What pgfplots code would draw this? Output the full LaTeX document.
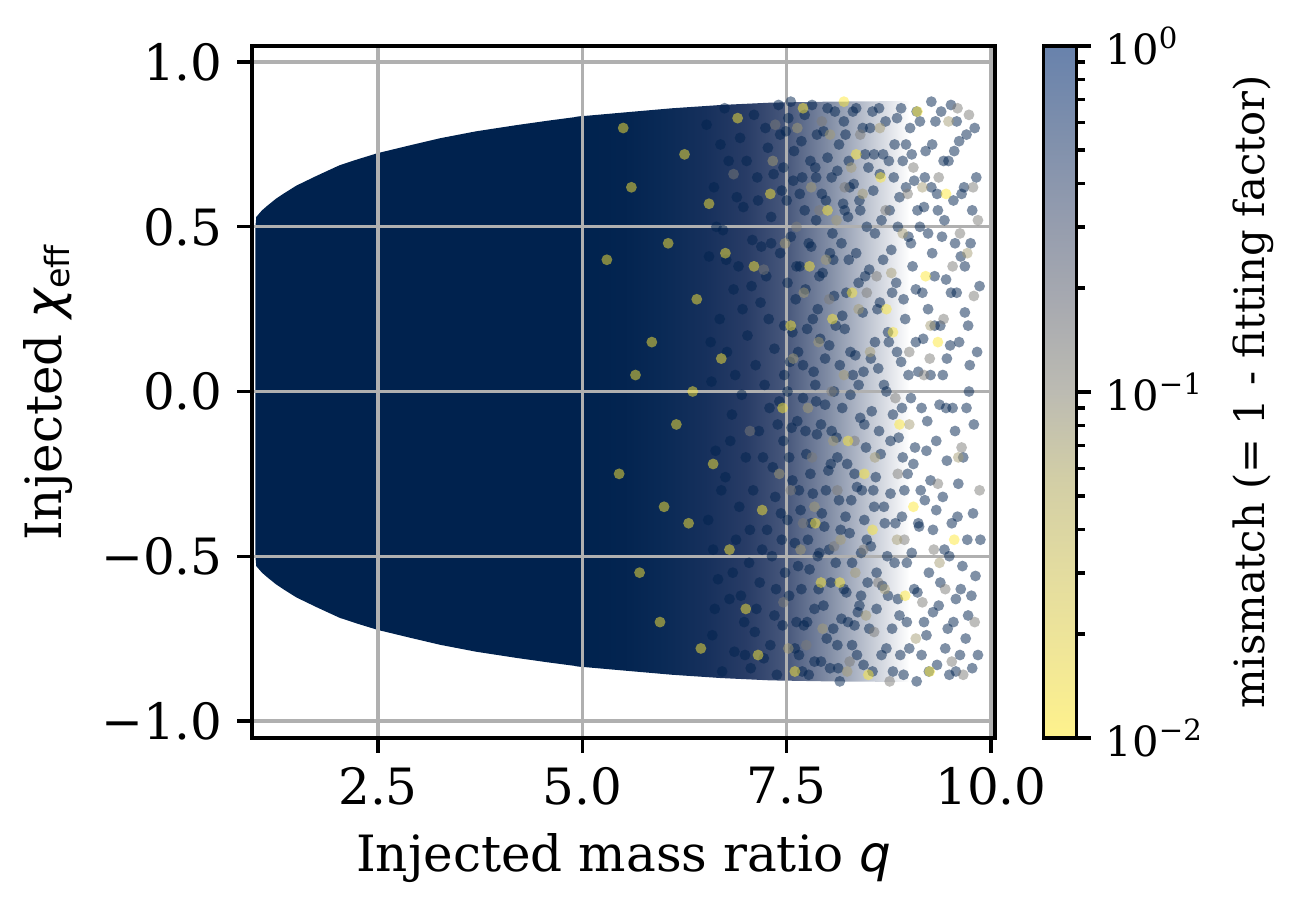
\documentclass[border=0pt]{standalone}
\usepackage{fontspec}
\setmainfont{DejaVu Serif}
\newfontfamily\dvsans{DejaVu Sans}
\usepackage{pgfplots}
\usepackage{pgfplotstable}
\pgfplotsset{compat=1.18}
\definecolor{navyd}{RGB}{0,34,78}
\definecolor{grayd}{RGB}{124,123,120}
\definecolor{tand}{RGB}{166,157,117}
\definecolor{yellowd}{RGB}{253,232,56}
\definecolor{gridgray}{RGB}{176,176,176}
\definecolor{sA}{RGB}{0,34,78}
\definecolor{sB}{RGB}{3,36,80}
\definecolor{sC}{RGB}{10,42,86}
\definecolor{sD}{RGB}{22,48,92}
\definecolor{sE}{RGB}{40,60,102}
\definecolor{sF}{RGB}{72,88,124}
\definecolor{sG}{RGB}{128,140,164}
\definecolor{sH}{RGB}{192,198,210}
\pgfdeclarehorizontalshading{fadeB}{100bp}{color(0bp)=(sA); color(25bp)=(sA); color(32.32bp)=(sB); color(38.41bp)=(sC); color(44.51bp)=(sD); color(50.61bp)=(sE); color(56.71bp)=(sF); color(62.8bp)=(sG); color(68.9bp)=(sH); color(75bp)=(white); color(100bp)=(white)}

\pgfplotstableread{
x y
6.52 0.81
6.61 0.62
6.55 0.41
6.68 0.22
6.58 0.03
6.63 -0.18
6.54 -0.39
6.66 -0.57
6.59 -0.74
6.71 -0.85
6.74 0.86
6.79 0.70
6.72 0.49
6.85 0.31
6.77 0.12
6.83 -0.07
6.75 -0.26
6.88 -0.45
6.80 -0.63
6.86 -0.79
6.93 0.77
6.97 0.56
6.91 0.38
7.02 0.17
6.95 -0.01
7.00 -0.20
6.92 -0.35
7.04 -0.52
6.98 -0.70
7.06 -0.84
7.10 0.84
7.14 0.65
7.08 0.46
7.18 0.27
7.12 0.08
7.16 -0.12
7.09 -0.30
7.20 -0.48
7.13 -0.66
7.22 -0.81
7.27 0.74
7.31 0.53
7.25 0.35
7.35 0.13
7.29 -0.05
7.33 -0.23
7.26 -0.42
7.37 -0.60
7.30 -0.77
7.40 0.87
7.44 0.61
7.42 0.42
7.47 0.20
7.41 -0.03
7.46 -0.15
7.43 -0.37
7.48 -0.55
7.45 -0.71
7.38 -0.86
6.69 0.75
6.64 0.50
6.70 -0.30
6.60 -0.48
6.89 0.59
6.84 -0.55
7.01 0.70
7.05 -0.42
7.19 0.44
7.17 -0.58
7.34 0.66
7.36 -0.32
7.23 0.02
6.96 0.25
6.81 -0.15
6.57 0.15
7.11 -0.73
7.28 0.22
7.39 -0.10
7.49 0.79
6.94 -0.62
6.76 0.40
7.21 -0.20
7.07 0.32
6.62 -0.66
6.87 0.05
7.32 -0.50
7.15 0.58
6.99 -0.80
7.24 0.80
7.52 0.83
7.58 0.64
7.55 0.47
7.61 0.28
7.54 0.09
7.63 -0.09
7.57 -0.27
7.60 -0.46
7.53 -0.62
7.65 -0.80
7.68 0.76
7.72 0.55
7.66 0.38
7.75 0.19
7.70 -0.02
7.74 -0.19
7.67 -0.36
7.78 -0.54
7.71 -0.71
7.77 -0.86
7.81 0.87
7.85 0.68
7.80 0.44
7.88 0.25
7.83 0.06
7.87 -0.13
7.82 -0.31
7.90 -0.49
7.84 -0.66
7.92 -0.82
7.95 0.79
7.98 0.58
7.94 0.36
8.02 0.14
7.97 -0.04
8.01 -0.24
7.96 -0.41
8.04 -0.58
7.99 -0.75
8.06 0.48
8.09 0.85
8.12 0.67
8.08 0.29
8.15 0.08
8.11 -0.14
8.14 -0.33
8.10 -0.52
8.17 -0.69
8.13 -0.84
8.19 0.57
8.22 0.78
8.26 0.40
8.21 0.19
8.28 -0.01
8.24 -0.22
8.27 -0.43
8.23 -0.61
8.30 -0.77
8.32 0.63
8.35 0.86
8.38 0.33
8.34 0.11
8.40 -0.08
8.36 -0.29
8.41 -0.49
8.37 -0.67
8.44 -0.83
8.46 0.72
8.48 0.50
8.43 0.24
8.47 -0.17
8.45 -0.39
8.49 -0.58
7.59 0.73
7.56 -0.11
7.64 0.12
7.62 -0.70
7.73 0.31
7.76 -0.45
7.69 0.65
7.79 -0.25
7.86 0.52
7.89 -0.60
7.91 0.16
7.93 -0.37
8.00 0.71
8.03 -0.84
8.05 -0.12
8.07 0.40
8.16 -0.42
8.18 0.23
8.20 -0.60
8.25 0.53
8.29 -0.33
8.31 0.05
8.33 -0.71
8.39 0.58
8.42 -0.30
7.51 0.33
7.51 -0.39
7.64 -0.53
7.86 -0.03
8.12 -0.77
8.26 0.70
8.44 0.06
8.52 0.80
8.56 0.61
8.51 0.37
8.58 0.15
8.54 -0.06
8.59 -0.26
8.53 -0.47
8.60 -0.66
8.55 -0.85
8.63 0.86
8.66 0.52
8.64 0.27
8.69 0.02
8.65 -0.19
8.70 -0.40
8.67 -0.59
8.72 -0.78
8.75 0.70
8.78 0.43
8.74 0.18
8.80 -0.07
8.77 -0.31
8.82 -0.52
8.79 -0.72
8.85 0.83
8.88 0.59
8.84 0.33
8.90 0.09
8.87 -0.14
8.91 -0.38
8.86 -0.63
8.93 -0.86
8.96 0.75
8.99 0.47
8.95 0.22
9.02 -0.02
8.98 -0.25
9.03 -0.49
8.97 -0.70
9.06 0.64
9.09 0.85
9.08 0.31
9.11 0.06
9.07 -0.17
9.12 -0.41
9.10 -0.61
9.15 -0.80
9.18 0.56
9.20 0.73
9.17 0.16
9.22 -0.09
9.19 -0.33
9.24 -0.55
9.21 -0.74
9.27 0.88
9.28 0.42
9.26 -0.27
9.29 -0.67
8.62 0.07
8.73 -0.50
8.81 0.65
8.92 -0.20
9.04 0.38
9.14 -0.30
8.57 -0.35
8.68 0.72
8.89 -0.80
9.01 0.80
9.23 0.25
9.13 0.50
9.32 0.82
9.35 0.55
9.31 0.20
9.37 -0.04
9.33 -0.36
9.38 -0.58
9.34 -0.83
9.42 0.70
9.45 0.34
9.41 0.05
9.46 -0.21
9.43 -0.48
9.47 -0.72
9.51 0.87
9.54 0.58
9.50 0.14
9.56 -0.12
9.52 -0.40
9.57 -0.63
9.61 0.76
9.63 0.41
9.60 -0.28
9.65 -0.53
9.62 -0.80
9.68 0.24
9.70 -0.05
9.67 0.62
9.72 -0.68
9.75 0.45
9.78 -0.37
9.74 0.08
9.80 0.80
9.77 -0.84
9.83 0.12
9.81 -0.56
9.40 0.47
9.49 -0.86
9.58 0.30
9.69 -0.75
9.55 0.73
7.31 0.45
7.35 -0.68
7.42 0.78
7.44 -0.45
7.47 0.05
7.50 0.58
7.53 -0.20
7.55 0.88
7.57 0.18
7.60 -0.78
7.62 0.38
7.65 -0.30
7.66 0.60
7.68 -0.60
7.70 0.08
7.72 0.84
7.73 -0.12
7.75 -0.70
7.77 0.45
7.79 0.70
7.80 -0.40
7.82 0.22
7.84 -0.82
7.85 0.02
7.87 0.78
7.88 -0.50
7.90 0.35
7.92 -0.10
7.93 0.60
7.95 -0.65
7.97 0.10
7.98 -0.30
8.00 0.86
8.02 -0.48
8.03 0.42
8.05 0.65
8.07 -0.72
8.08 0.00
8.10 0.20
8.12 -0.20
8.14 0.75
8.15 -0.88
8.17 0.45
8.18 -0.05
8.20 0.82
8.22 -0.38
8.23 0.30
8.25 -0.70
8.27 0.62
8.28 0.12
8.30 -0.52
8.31 0.85
8.33 -0.25
8.35 0.42
8.36 -0.80
8.38 0.02
8.40 0.55
8.41 -0.62
8.43 0.80
8.45 -0.10
8.46 0.35
8.48 -0.45
8.50 0.68
8.51 -0.72
8.53 0.10
8.55 0.85
8.56 -0.30
8.58 0.48
8.60 -0.55
8.61 0.25
8.63 -0.12
8.64 0.66
8.66 -0.80
8.68 0.40
8.69 -0.35
8.71 0.82
8.72 0.00
8.74 -0.62
8.76 0.55
8.77 -0.15
8.79 0.30
8.80 -0.85
8.82 0.75
8.83 -0.40
8.85 0.12
8.86 0.50
8.88 -0.68
8.90 0.86
8.91 -0.05
8.93 0.28
8.94 -0.30
8.96 0.62
8.97 -0.52
8.99 0.05
9.00 -0.78
9.02 0.45
9.03 0.72
9.05 -0.22
9.06 -0.60
9.08 0.15
9.10 0.55
9.11 -0.40
9.13 0.82
9.15 -0.05
9.16 0.30
9.18 -0.70
9.19 0.65
9.21 -0.18
9.23 0.48
9.24 -0.85
9.26 0.05
9.28 0.75
9.29 -0.42
9.31 0.35
9.33 -0.15
9.34 0.60
9.36 -0.65
9.38 0.20
9.39 0.85
9.41 -0.32
9.43 0.52
9.44 -0.78
9.46 0.10
9.48 0.70
9.49 -0.50
9.51 0.30
9.53 -0.05
9.54 -0.70
9.56 0.45
9.58 0.82
9.59 -0.38
9.61 0.15
9.63 -0.60
9.64 0.60
9.66 -0.20
9.68 0.38
9.70 0.78
9.71 -0.45
9.73 0.00
9.76 -0.62
9.77 0.55
9.79 -0.10
9.82 0.65
9.84 -0.80
9.86 0.32
9.87 -0.45
9.72 0.20
9.57 -0.85
9.45 -0.05
9.27 0.62
9.09 -0.88
8.92 0.70
8.75 0.15
8.57 0.72
8.39 -0.65
8.21 0.55
8.04 -0.22
7.86 0.65
7.69 -0.85
7.51 0.00
7.46 0.68
}\navypts

\pgfplotstableread{
x y
6.85 0.66
7.05 -0.12
7.22 0.37
7.46 -0.64
7.62 0.50
7.81 -0.20
7.93 0.82
8.08 -0.47
8.21 0.62
8.33 -0.15
8.48 0.30
8.57 -0.73
8.71 0.55
8.83 -0.02
8.94 -0.45
9.05 0.68
9.16 -0.64
9.25 0.10
9.36 0.65
9.44 -0.60
9.53 0.38
9.64 -0.17
9.73 0.84
9.79 0.29
9.86 -0.30
9.84 0.52
7.36 0.81
7.74 -0.77
8.02 0.28
8.40 0.78
8.76 -0.88
9.00 0.12
9.30 -0.48
9.66 -0.86
9.59 0.86
8.12 -0.30
7.55 -0.30
8.62 -0.58
9.42 0.22
9.62 0.48
9.78 0.62
9.80 -0.70
9.52 -0.82
9.35 -0.28
9.18 0.05
8.98 0.60
8.86 -0.25
8.60 0.35
8.44 -0.48
8.27 -0.82
8.05 0.00
7.90 0.55
7.70 -0.40
}\graypts

\pgfplotstableread{
x y
7.33 0.70
7.41 -0.25
7.48 0.45
7.52 -0.78
7.58 0.10
7.63 0.80
7.67 -0.48
7.71 0.30
7.76 -0.05
7.80 0.62
7.84 -0.35
7.89 0.15
7.94 -0.72
7.98 0.40
8.03 0.78
8.07 -0.15
8.11 0.52
8.16 -0.45
8.20 0.05
8.24 -0.85
8.29 0.68
8.34 -0.55
8.38 0.25
8.43 0.60
8.47 -0.68
8.52 0.12
8.58 -0.20
8.64 0.80
8.70 -0.60
8.78 0.36
8.85 -0.45
8.92 0.48
9.00 -0.10
9.08 -0.75
9.16 0.62
9.26 0.20
9.37 -0.52
9.48 0.82
9.60 -0.20
9.71 0.42
}\tanpts

\pgfplotstableread{
x y
5.30 0.40
5.45 -0.25
5.60 0.62
5.70 -0.55
5.85 0.15
5.95 -0.70
6.05 0.45
6.15 -0.10
6.25 0.72
6.30 -0.40
6.40 0.28
6.45 -0.78
6.55 0.57
6.60 -0.22
6.70 0.10
6.80 -0.48
6.90 0.83
7.00 -0.66
7.10 0.38
7.20 -0.36
7.30 0.60
7.45 -0.05
7.60 -0.85
7.70 0.86
7.85 -0.40
8.00 0.55
8.15 -0.58
8.30 0.30
8.50 -0.86
8.65 0.65
8.80 0.18
8.95 -0.62
9.10 0.85
9.25 -0.85
9.45 0.60
5.50 0.80
5.65 0.05
6.00 -0.35
6.35 0.00
6.75 0.42
7.15 -0.80
7.55 0.20
8.20 0.88
8.45 -0.25
9.20 0.35
9.55 -0.45
7.78 0.38
7.92 -0.58
8.06 0.22
8.25 -0.15
8.35 0.72
8.55 -0.42
8.72 0.25
8.88 -0.10
9.05 -0.35
9.35 0.15
}\yellowpts

\begin{document}
\begin{tikzpicture}
\path[use as bounding box] (0,0) rectangle (309.6pt,220.32pt);
\begin{axis}[
  at={(60.48pt,43.2pt)}, anchor=south west,
  scale only axis, width=178.32pt, height=166.08pt,
  xmin=0.958, xmax=10.049, ymin=-1.052, ymax=1.049,
  xtick={2.5,5,7.5,10}, xticklabels={2.5,5.0,7.5,10.0},
  ytick={-1,-0.5,0,0.5,1}, yticklabels={−1.0,−0.5,0.0,0.5,1.0},
  xtick pos=bottom, ytick pos=left,
  tick align=outside, major tick length=3.5pt,
  tick style={line width=0.8pt, black},
  axis line style={line width=0.8pt},
  grid=major, grid style={line width=0.8pt, draw=gridgray},
  axis on top,
  tick label style={font=\fontsize{12}{14}\selectfont},
  label style={font=\fontsize{12}{14}\selectfont},
  xlabel={Injected mass ratio {\dvsans\itshape q}},
  ylabel={Injected {\dvsans\itshape χ}\textsubscript{\dvsans eff}},
  colormap={cfade}{rgb255=(254,242,140) rgb255=(240,230,152) rgb255=(226,219,160) rgb255=(210,206,166) rgb255=(188,187,178) rgb255=(168,170,176) rgb255=(148,156,174) rgb255=(126,143,172) rgb255=(104,130,172)},
  point meta min=-2, point meta max=0,
  colorbar,
  colorbar style={
    at={(parent axis.south east)}, anchor=south west, xshift=3.1pt,
    scale only axis, width=7.92pt, height=166.08pt,
    ytick={-2,-1,0},
    yticklabels={10\textsuperscript{−2},10\textsuperscript{−1},10\textsuperscript{0}},
    minor ytick={-1.699,-1.523,-1.398,-1.301,-1.222,-1.155,-1.097,-1.046,-0.699,-0.523,-0.398,-0.301,-0.222,-0.155,-0.097,-0.046},
    ytick pos=right, yticklabel pos=right,
    tick align=outside, major tick length=3.5pt, minor tick length=2pt,
    tick style={line width=0.8pt, black},
    axis line style={line width=0.8pt},
    tick label style={font=\fontsize{10}{12}\selectfont},
    ylabel={mismatch (= 1 - fitting factor)},
    ylabel near ticks,
    ylabel style={font=\fontsize{10}{12}\selectfont},
  },
]
\addplot[fill=navyd, draw=none] coordinates {
 (1.00,0.50) (1.01,0.53) (1.08,0.55) (1.15,0.565) (1.25,0.585) (1.34,0.60) (1.5,0.625) (1.75,0.655) (2.03,0.687) (2.25,0.705) (2.5,0.724) (2.9,0.748) (3.26,0.769) (3.7,0.79) (4.2,0.809) (4.6,0.823) (5.0,0.836)
 (5.0,-0.836) (4.6,-0.823) (4.2,-0.809) (3.7,-0.79) (3.26,-0.769) (2.9,-0.748) (2.5,-0.724) (2.25,-0.705) (2.03,-0.687) (1.75,-0.655) (1.5,-0.625) (1.34,-0.60) (1.25,-0.585) (1.15,-0.565) (1.08,-0.55) (1.01,-0.53) (1.00,-0.50)
} -- cycle;
\addplot[shading=fadeB, draw=none] coordinates {
 (4.9,0.833) (5.0,0.836) (5.5,0.847) (6.1,0.86) (6.7,0.87) (7.3,0.877) (8.0,0.88) (9.0,0.882)
 (9.0,-0.882) (8.0,-0.88) (7.3,-0.877) (6.7,-0.87) (6.1,-0.86) (5.5,-0.847) (5.0,-0.836) (4.9,-0.833)
} -- cycle;
\addplot[only marks, mark=*, mark size=1.3pt, color=navyd, mark options={draw opacity=0, fill opacity=0.5, fill=navyd}] table[x=x,y=y] {\navypts};
\addplot[only marks, mark=*, mark size=1.3pt, color=grayd, mark options={draw opacity=0, fill opacity=0.5, fill=grayd}] table[x=x,y=y] {\graypts};
\addplot[only marks, mark=*, mark size=1.3pt, color=tand, mark options={draw opacity=0, fill opacity=0.5, fill=tand}] table[x=x,y=y] {\tanpts};
\addplot[only marks, mark=*, mark size=1.3pt, color=yellowd, mark options={draw opacity=0, fill opacity=0.5, fill=yellowd}] table[x=x,y=y] {\yellowpts};
\end{axis}
\end{tikzpicture}
\end{document}
